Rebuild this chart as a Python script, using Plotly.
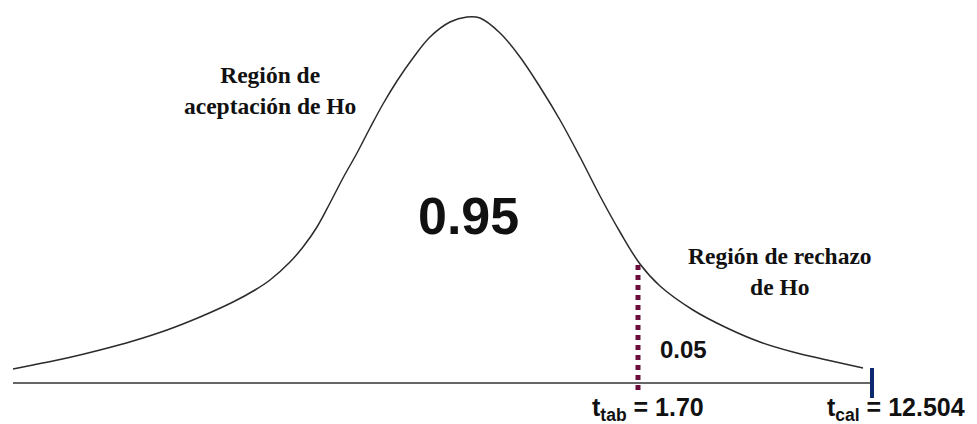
import plotly.graph_objects as go

# curve (x position, height above the axis line)
curve_x = [13, 33, 67, 100, 133, 167, 200, 233, 255, 270, 290, 303, 317, 330, 343, 357, 370,
           383, 397, 413, 430, 450, 467, 480, 500, 520, 540, 560, 580, 600, 620, 640, 660,
           693, 727, 760, 793, 827, 863]
curve_y = [14, 18, 25, 33, 42, 53, 66, 81, 93, 103, 121, 136, 156, 180, 205, 230, 255,
           279, 302, 325, 346, 361, 366, 365, 350, 326, 296, 263, 226, 187, 151, 119, 97,
           73, 55, 41, 31, 23, 15]

axis_x = [13, 872]
axis_y = [0, 0]
t_tab_x = [638, 638]
t_tab_y = [118, -10]
t_cal_x = [872, 872]
t_cal_y = [15, -15]

fig = go.Figure()
fig.add_trace(go.Scatter(x=axis_x, y=axis_y, mode="lines",
                         line=dict(color="#333333", width=1.6)))
fig.add_trace(go.Scatter(x=curve_x, y=curve_y, mode="lines",
                         line=dict(color="#2b2b2b", width=1.5, shape="spline", smoothing=1.0)))
fig.add_trace(go.Scatter(x=t_tab_x, y=t_tab_y, mode="lines",
                         line=dict(color="#6b0d3e", width=5, dash="5px,5px")))
fig.add_trace(go.Scatter(x=t_cal_x, y=t_cal_y, mode="lines",
                         line=dict(color="#0d2a6e", width=4)))

serif = dict(family="Liberation Serif, DejaVu Serif, serif", size=23.5, color="#111111")
sans = dict(family="Liberation Sans, Arial, sans-serif", color="#111111")

fig.add_annotation(x=270, y=293, text="<b>Región de<br>aceptación de Ho</b>",
                   showarrow=False, font=serif, align="center")
fig.add_annotation(x=468, y=167, text="<b>0.95</b>", showarrow=False,
                   font=dict(sans, size=52))
fig.add_annotation(x=780, y=112, text="<b>Región de rechazo<br>de Ho</b>",
                   showarrow=False, font=serif, align="center")
fig.add_annotation(x=683, y=34, text="<b>0.05</b>", showarrow=False,
                   font=dict(sans, size=24))
fig.add_annotation(x=648, y=-26, text="<b>t<sub>tab</sub> = 1.70</b>", showarrow=False,
                   font=dict(sans, size=25))
fig.add_annotation(x=896, y=-26, text="<b>t<sub>cal</sub> = 12.504</b>", showarrow=False,
                   font=dict(sans, size=25))

fig.update_layout(width=977, height=424, margin=dict(l=0, r=0, t=0, b=0),
                  plot_bgcolor="white", paper_bgcolor="white", showlegend=False)
fig.update_xaxes(visible=False, range=[0, 977])
fig.update_yaxes(visible=False, range=[-41, 383])
# page body has a default margin; drop it so the figure sits at the window corner
fig.write_html("out.html", config={"displayModeBar": False},
               post_script="document.body.style.margin='0';")
